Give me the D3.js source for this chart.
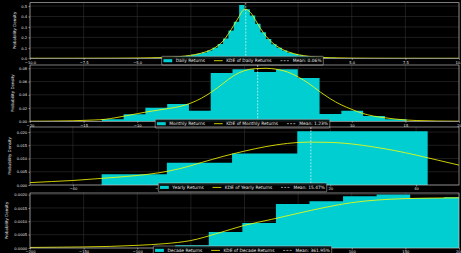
<!DOCTYPE html>
<html><head><meta charset="utf-8">
<script src="https://cdn.jsdelivr.net/npm/d3@7"></script>
<style>
html,body{margin:0;padding:0;background:#000;overflow:hidden;}
svg{display:block;}
text{font-family:"DejaVu Sans",sans-serif;}
</style></head><body>
<svg id="c" width="461" height="253"></svg>
<script>
// ---------- DATA ----------
const dailyEdges=[-5,-4.75,-4.5,-4.25,-4,-3.75,-3.5,-3.25,-3,-2.75,-2.5,-2.25,-2,-1.75,-1.5,-1.25,-1,-0.75,-0.5,-0.25,0,0.25,0.5,0.75,1,1.25,1.5,1.75,2,2.25,2.5,2.75,3,3.25,3.5,3.75,4,4.25,4.5,4.75,5];
const dailyDensity=[0.002,0.003,0.004,0.005,0.006,0.008,0.011,0.014,0.019,0.025,0.033,0.043,0.056,0.074,0.100,0.138,0.19,0.265,0.35,0.51,0.47,0.41,0.33,0.25,0.185,0.135,0.10,0.074,0.052,0.04,0.029,0.021,0.015,0.011,0.008,0.006,0.0045,0.0035,0.0025,0.002];
const dailyKdeX=[-10,-8,-6,-5,-4,-3.5,-3,-2.5,-2,-1.75,-1.5,-1.25,-1,-0.75,-0.5,-0.25,-0.1,0.05,0.2,0.35,0.5,0.75,1,1.25,1.5,1.75,2,2.5,3,3.5,4,5,6,8,10];
const dailyKdeY=[0.0002,0.0005,0.0014,0.0028,0.0065,0.0105,0.017,0.029,0.05,0.066,0.088,0.12,0.165,0.235,0.315,0.40,0.452,0.47,0.455,0.42,0.37,0.285,0.212,0.158,0.118,0.087,0.064,0.035,0.019,0.010,0.0055,0.002,0.0009,0.0003,0.0001];

const monthlyEdges=[-13.3,-11.27,-9.24,-7.21,-5.18,-3.15,-1.12,0.91,2.94,4.97,7.0,9.03,11.06,13.09,15.12];
const monthlyDensity=[0.003,0.0105,0.0205,0.026,0.016,0.073,0.0785,0.0745,0.0785,0.0655,0.011,0.016,0.008,0.003];
const monthlyKdeX=[-20,-18,-16,-14,-13,-12,-11,-10,-9,-8,-7,-6,-5,-4,-3,-2,-1,0,1,2,3,4,5,6,7,8,9,10,11,12,13,14,15,16,18,20];
const monthlyKdeY=[0.0001,0.0003,0.0008,0.002,0.003,0.0055,0.0085,0.0115,0.0145,0.017,0.0195,0.0225,0.0275,0.035,0.045,0.057,0.069,0.0765,0.0795,0.08,0.0785,0.0745,0.067,0.057,0.045,0.034,0.025,0.018,0.012,0.008,0.0055,0.0035,0.002,0.0012,0.0004,0.0001];

const yearlyEdges=[-33.3,-18.1,-2.9,12.3,27.5,42.7];
const yearlyDensity=[0.0041,0.0084,0.0119,0.0203,0.0203];
const yearlyKdeX=[-50,-45,-40,-35,-30,-25,-20,-15,-10,-5,0,5,10,15,20,25,30,35,40,45,50];
const yearlyKdeY=[0.0009,0.0013,0.0017,0.0023,0.0029,0.0036,0.0046,0.0062,0.0085,0.0108,0.0128,0.0145,0.0157,0.0162,0.0161,0.0155,0.0144,0.0130,0.0113,0.0094,0.0075];

const decadeEdges=[-64.6,-33.3,-2.0,29.3,60.6,91.9,123.2,154.5,185.8,217.1];
const decadeDensity=[0.0001,0.0006,0.00094,0.00165,0.00175,0.00194,0.002,0.00187,0.0019];
const decadeKdeX=[-200,-175,-150,-125,-100,-75,-50,-25,0,25,50,75,100,125,150,175,200];
const decadeKdeY=[0.00002,0.00003,0.00004,0.00006,0.0001,0.00016,0.00028,0.00055,0.00085,0.00107,0.0013,0.00152,0.0017,0.0018,0.00185,0.00187,0.00188];

const means=[0.06,1.23,15.47,361.95];
const seriesNames=["Daily","Monthly","Yearly","Decade"];

const dailyXTicks=[-10,-7.5,-5,-2.5,0,2.5,5,7.5,10];
const dailyYTicks=[0,0.1,0.2,0.3,0.4,0.5];
const monthlyXTicks=[-20,-15,-10,-5,0,5,10,15,20];
const monthlyYTicks=[0,0.02,0.04,0.06,0.08];
const yearlyXTicks=[-40,-20,0,20,40];
const yearlyYTicks=[0,0.005,0.010,0.015,0.020];
const decadeXTicks=[-200,-150,-100,-50,0,50,100,150,200];
const decadeYTicks=[0,0.0005,0.0010,0.0015,0.0020];

const xDomains=[[-10,10],[-20,20],[-50,50],[-200,200]];
const yMaxes=[0.532,0.085,0.0219,0.00206];

// ---------- DRAW ----------
const svg=d3.select('#c');
svg.append('rect').attr('width',461).attr('height',253).attr('fill','#000');
const L=30,R=459;
const layout=[[2.7,58.3],[65,121.3],[127,185],[193,248]];
const yLabelX=[15,13,10,7];
const TXT='#e6e6e6';
const HIST='#00CED1';

const panels=[
 {edges:dailyEdges,dens:dailyDensity,kx:dailyKdeX,ky:dailyKdeY,xt:dailyXTicks,yt:dailyYTicks,xf:'.1f',yf:'.1f'},
 {edges:monthlyEdges,dens:monthlyDensity,kx:monthlyKdeX,ky:monthlyKdeY,xt:monthlyXTicks,yt:monthlyYTicks,xf:'d',yf:'.2f'},
 {edges:yearlyEdges,dens:yearlyDensity,kx:yearlyKdeX,ky:yearlyKdeY,xt:yearlyXTicks,yt:yearlyYTicks,xf:'d',yf:'.3f'},
 {edges:decadeEdges,dens:decadeDensity,kx:decadeKdeX,ky:decadeKdeY,xt:decadeXTicks,yt:decadeYTicks,xf:'d',yf:'.4f'}
];

const tickFS=3.7, legFS=4.4, labFS=4.0;

panels.forEach((p,i)=>{
  const [top,bot]=layout[i];
  const x=d3.scaleLinear().domain(xDomains[i]).range([L,R]);
  const y=d3.scaleLinear().domain([0,yMaxes[i]]).range([bot,top]);
  const clipId='clip'+i;
  svg.append('clipPath').attr('id',clipId).append('rect')
    .attr('x',L).attr('y',top).attr('width',R-L).attr('height',bot-top);
  const g=svg.append('g');
  // grid
  const grid=g.append('g').attr('stroke','#3a3a3a').attr('stroke-width',0.5);
  grid.selectAll('.gx').data(p.xt).join('line')
    .attr('x1',d=>x(d)).attr('x2',d=>x(d)).attr('y1',top).attr('y2',bot);
  grid.selectAll('.gy').data(p.yt).join('line')
    .attr('y1',d=>y(d)).attr('y2',d=>y(d)).attr('x1',L).attr('x2',R);
  // histogram as one step outline (no seams between bins)
  const stepPts=[[p.edges[0],0]];
  p.dens.forEach((v,j)=>{stepPts.push([p.edges[j],v]);stepPts.push([p.edges[j+1],v]);});
  stepPts.push([p.edges[p.edges.length-1],0]);
  const stepLine=d3.line().x(d=>x(d[0])).y(d=>y(d[1]));
  const plot=g.append('g').attr('clip-path',`url(#${clipId})`);
  plot.append('path').datum(stepPts)
    .attr('d',d=>stepLine(d)+'Z')
    .attr('fill',HIST);
  // KDE
  const pts=p.kx.map((xx,j)=>[xx,p.ky[j]]);
  plot.append('path').datum(pts)
    .attr('d',d3.line().x(d=>x(d[0])).y(d=>y(d[1])).curve(d3.curveMonotoneX))
    .attr('fill','none').attr('stroke','#ffff00').attr('stroke-width',0.8);
  // mean
  plot.append('line').attr('x1',x(means[i])).attr('x2',x(means[i]))
    .attr('y1',top).attr('y2',bot).attr('stroke','#fff').attr('stroke-width',0.6)
    .attr('stroke-dasharray','2,1.2');
  // frame
  g.append('rect').attr('x',L).attr('y',top).attr('width',R-L).attr('height',bot-top)
    .attr('fill','none').attr('stroke','#cfcfcf').attr('stroke-width',0.6);
  // axes
  const xa=g.append('g').attr('transform',`translate(0,${bot})`)
    .call(d3.axisBottom(x).tickValues(p.xt).tickFormat(d3.format(p.xf)).tickSize(1.5).tickPadding(1.2));
  const ya=g.append('g').attr('transform',`translate(${L},0)`)
    .call(d3.axisLeft(y).tickValues(p.yt).tickFormat(d3.format(p.yf)).tickSize(1.5).tickPadding(1.3));
  [xa,ya].forEach(a=>{
    a.select('.domain').remove();
    a.selectAll('line').attr('stroke',TXT).attr('stroke-width',0.5);
    a.selectAll('text').attr('fill',TXT).style('font-size',tickFS+'px').style('font-family','DejaVu Sans');
  });
  // y label
  g.append('text').attr('transform',`translate(${yLabelX[i]},${(top+bot)/2}) rotate(-90)`)
    .attr('text-anchor','middle').attr('dy','0.35em').attr('fill',TXT)
    .style('font-size',labFS+'px').text('Probability Density');

  // legend
  const em=legFS, bp=0.4*em, hl=2*em, htp=0.8*em, cs=2*em;
  const labels=[`${seriesNames[i]} Returns`,`KDE of ${seriesNames[i]} Returns`,`Mean: ${d3.format('.2f')(means[i])}%`];
  const lg=svg.append('g');
  const box=lg.append('rect');
  const lh=2.0*em;
  const cy=lh/2;
  let cur=bp;
  labels.forEach((t,k)=>{
    if(k===0){
      lg.append('rect').attr('x',cur).attr('y',cy-0.35*em).attr('width',hl).attr('height',0.7*em).attr('fill',HIST);
    } else if(k===1){
      lg.append('line').attr('x1',cur).attr('x2',cur+hl).attr('y1',cy).attr('y2',cy).attr('stroke','#ffff00').attr('stroke-width',0.8);
    } else {
      lg.append('line').attr('x1',cur).attr('x2',cur+hl).attr('y1',cy).attr('y2',cy).attr('stroke','#fff').attr('stroke-width',0.6).attr('stroke-dasharray','2,1.2');
    }
    const tx=lg.append('text').attr('x',cur+hl+htp).attr('y',cy).attr('dy','0.36em')
      .attr('fill',TXT).style('font-size',legFS+'px').text(t);
    const w=tx.node().getComputedTextLength();
    cur=cur+hl+htp+w+(k<2?cs:0);
  });
  const lw=cur+bp;
  box.attr('x',0).attr('y',0).attr('width',lw).attr('height',lh).attr('rx',0.8)
    .attr('fill','#000').attr('fill-opacity',0.85).attr('stroke','#cccccc').attr('stroke-width',0.5);
  lg.attr('transform',`translate(${242.5-lw/2},${bot-2})`);
});
</script>
</body></html>
